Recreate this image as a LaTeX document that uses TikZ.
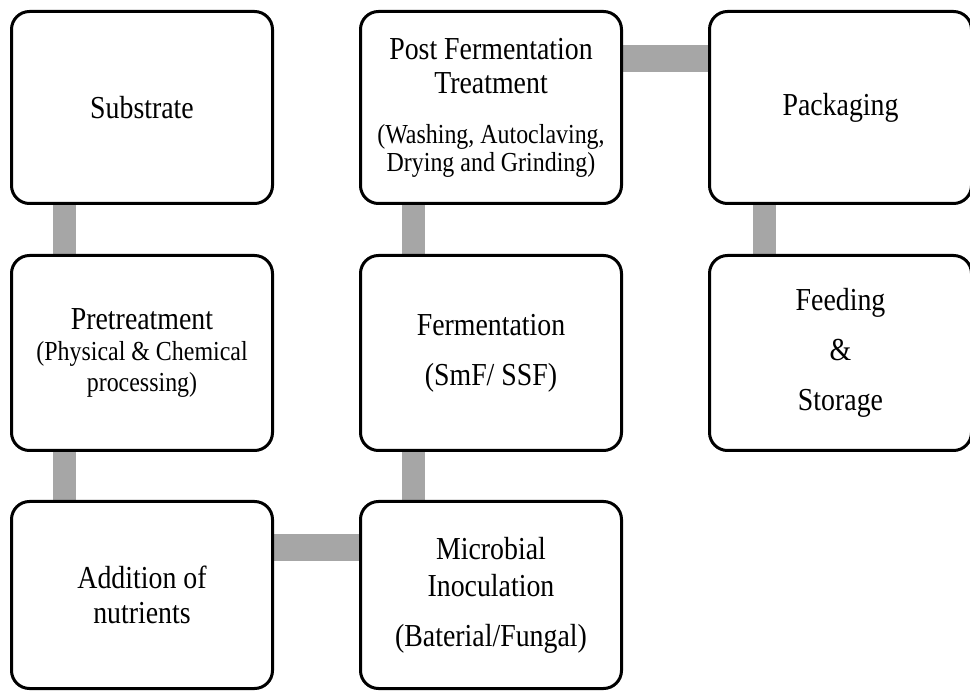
\documentclass[tikz,border=0pt]{standalone}
\usepackage{fontspec}
\setmainfont[FakeStretch=0.87]{Liberation Serif}
\usepackage{xcolor}
\usetikzlibrary{positioning,backgrounds}
\definecolor{barcol}{RGB}{166,166,166}
\newcommand{\mainsize}{\fontsize{32}{34}\selectfont}
\newcommand{\subsize}{\fontsize{27.5}{28}\selectfont}

\begin{document}
\begin{tikzpicture}[
  x=1pt, y=-1pt,
  node distance=51pt and 88pt,
  box/.style={draw,line width=3pt,rounded corners=18pt,fill=white,align=center,
    inner sep=0pt,outer sep=0pt,minimum width=261pt,font=\mainsize},
  vbar/.style={draw=barcol,line width=23pt},
  hbar/.style={draw=barcol,line width=27pt}]

\useasboundingbox (0,0) rectangle (970,692);

\node[box,minimum height=192pt] at (142,107.5) (sub) {Substrate};
\node[box,minimum height=195pt,below=52pt of sub] (pre)
  {Pretreatment\\[-3pt]{\subsize(Physical \& Chemical}\\[-3pt]{\subsize processing)}};
\node[box,minimum height=187pt,below=of pre] (add) {Addition of\\[1pt]nutrients};
\node[box,minimum height=187pt,right=of add] (mic)
  {Microbial\\[3pt]Inoculation\\[16pt](Baterial/Fungal)};
\node[box,minimum height=195pt,above=of mic] (fer) {Fermentation\\[16pt](SmF/ SSF)};
\node[box,minimum height=192pt,above=52pt of fer] (post)
  {Post Fermentation\\Treatment\\[16pt]{\subsize(Washing, Autoclaving,}\\[-6pt]{\subsize Drying and Grinding)}};
\node[box,minimum height=192pt,minimum width=262pt,right=of post] (pack) {Packaging};
\node[box,minimum height=195pt,minimum width=262pt,below=52pt of pack] (feed)
  {Feeding\\[16pt]\&\\[16pt]Storage};

\begin{scope}[on background layer]
  \draw[vbar] ([xshift=53pt]sub.south west) -- ([xshift=53pt]pre.north west);
  \draw[vbar] ([xshift=53pt]pre.south west) -- ([xshift=53pt]add.north west);
  \draw[hbar] ([yshift=-46pt]add.north east) -- ([yshift=-46pt]mic.north west);
  \draw[vbar] ([xshift=53pt]mic.north west) -- ([xshift=53pt]fer.south west);
  \draw[vbar] ([xshift=53pt]fer.north west) -- ([xshift=53pt]post.south west);
  \draw[hbar] ([yshift=-47pt]post.north east) -- ([yshift=-47pt]pack.north west);
  \draw[vbar] ([xshift=55pt]pack.south west) -- ([xshift=55pt]feed.north west);
\end{scope}
\end{tikzpicture}
\end{document}
